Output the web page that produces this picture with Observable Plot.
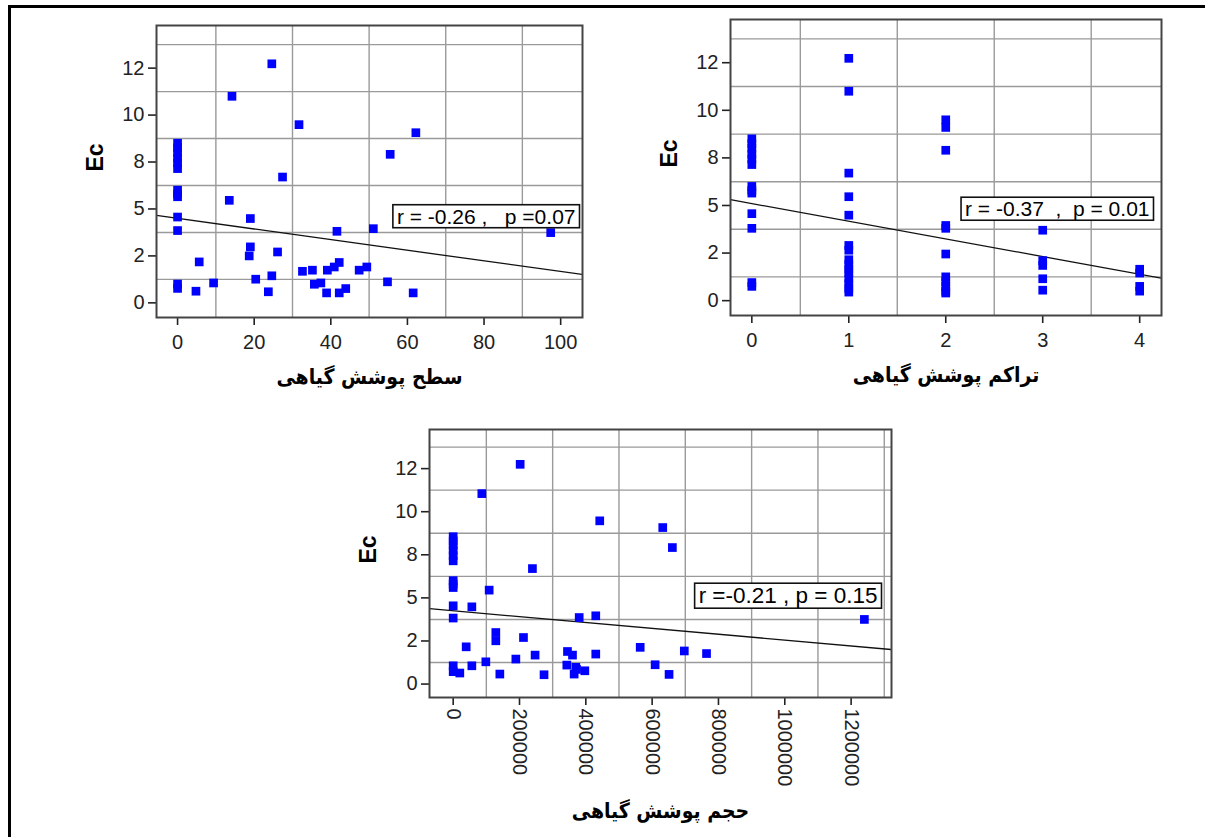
<!DOCTYPE html>
<html>
<head>
<meta charset="utf-8">
<script src="https://cdn.jsdelivr.net/npm/d3@7"></script>
<script src="https://cdn.jsdelivr.net/npm/@observablehq/plot@0.6"></script>
<style>
  body { margin: 0; background: #fff; }
  #root { position: relative; width: 1205px; height: 837px; overflow: hidden; background: #fff; }
  .bt { position: absolute; left: 8px; top: 5px; right: 0; height: 3px; background: #000; }
  .bl { position: absolute; left: 8px; top: 5px; bottom: 0; width: 3px; background: #000; }
  .panel { position: absolute; }
  svg text { white-space: pre; }
</style>
</head>
<body>
<div id="root"><div class="bt"></div><div class="bl"></div></div>
<script>
// ---- shared Ec (y) axis ----
const ecTicks = [0, 2.5, 5, 7.5, 10, 12.5];
const ecTickLabels = ["0", "2", "5", "8", "10", "12"];
const ecGrid = [1.25, 3.75, 6.25, 8.75, 11.25, 13.75];
const ecDomain = [-0.78, 14.77];

// ---- panel 1: سطح پوشش گیاهی (cover area) ----
const areaX = [0, 0, 0, 0, 0, 0, 0, 0, 0, 0, 0, 0, 0,
  5.65, 4.8, 9.4, 13.5, 14.2, 19.0, 19.0, 18.7, 20.4, 23.7,
  24.6, 24.6, 26.1, 27.4, 31.7, 32.6, 35.2, 35.7, 37.4, 39.1,
  38.9, 40.9, 41.6, 42.2, 42.2, 43.9, 47.4, 49.4, 51.1, 54.8,
  55.5, 62.2, 61.5, 97.4];
const areaEc = [8.5, 8.25, 8.0, 7.7, 7.45, 7.15, 6.0, 5.8, 5.65, 4.57, 3.85, 1.0, 0.77,
  2.18, 0.62, 1.06, 5.46, 11.0, 4.49, 2.98, 2.5, 1.26, 0.59,
  12.73, 1.44, 2.71, 6.70, 9.49, 1.68, 1.74, 0.99, 1.06, 1.74,
  0.53, 1.91, 3.81, 2.15, 0.53, 0.76, 1.74, 1.91, 3.95, 1.12,
  7.91, 9.06, 0.53, 3.74];
const areaTicks = [0, 20, 40, 60, 80, 100];
const areaGrid = [10, 30, 50, 70, 90];
const areaDomain = [-5.5, 105.7];

// ---- panel 2: تراکم پوشش گیاهی (cover density) ----
const densX = [0, 0, 0, 0, 0, 0, 0, 0, 0, 0, 0, 0, 0,
  1, 1, 1, 1, 1, 1, 1, 1, 1, 1, 1, 1, 1, 1, 1,
  2, 2, 2, 2, 2, 2, 2, 2, 2, 2, 2,
  3, 3, 3, 3, 3,
  4, 4, 4, 4];
const densEc = [8.5, 8.25, 8.0, 7.7, 7.45, 7.15, 6.0, 5.8, 5.65, 4.57, 3.8, 0.95, 0.75,
  12.73, 11.0, 6.7, 5.46, 4.49, 2.9, 2.65, 2.15, 1.9, 1.65, 1.45, 1.15, 0.9, 0.65, 0.45,
  9.5, 9.1, 7.9, 3.95, 3.8, 2.45, 1.25, 1.0, 0.75, 0.5, 0.4,
  3.7, 2.1, 1.85, 1.15, 0.55,
  1.65, 1.45, 0.75, 0.5];
const densTicks = [0, 1, 2, 3, 4];
const densGrid = [0.5, 1.5, 2.5, 3.5];
const densDomain = [-0.22, 4.225];

// ---- panel 3: حجم پوشش گیاهی (cover volume) ----
const volX = [0, 0, 0, 0, 0, 0, 0, 0, 0, 0, 0, 0, 0,
  20000, 39200, 56300, 56300, 98500, 86400, 108500, 128600, 128600, 140700,
  189000, 202000, 212000, 239000, 247000, 274000, 344700, 342700, 359800, 369800,
  364800, 380000, 372000, 397000, 430000, 430000, 442000, 564000, 609000, 632000,
  651000, 661000, 697000, 764000, 1240000];
const volEc = [8.55, 8.3, 8.05, 7.75, 7.45, 7.15, 6.0, 5.8, 5.6, 4.54, 3.83, 1.06, 0.72,
  0.64, 2.16, 1.06, 4.48, 1.29, 11.05, 5.45, 2.99, 2.51, 0.58,
  1.45, 12.75, 2.70, 6.70, 1.68, 0.54, 1.89, 1.10, 1.68, 0.97,
  0.58, 3.86, 0.85, 0.77, 3.96, 1.74, 9.47, 2.13, 1.12, 9.08,
  0.56, 7.92, 1.92, 1.77, 3.75];
const volTicks = [0, 200000, 400000, 600000, 800000, 1000000, 1200000];
const volGrid = [100000, 300000, 500000, 700000, 900000, 1100000, 1300000];
const volDomain = [-71400, 1321800];

// ---- fitted lines and statistics ----
const fitIntercepts = [4.50, 5.10, 4.25];
const fitSlopes = [-0.0283, -0.928, -0.0000017];
const statLabels = ["r = -0.26 ,   p =0.07", "r = -0.37  ,  p = 0.01", "r =-0.21 , p = 0.15"];
const xTitles = ["سطح پوشش گیاهی", "تراکم پوشش گیاهی", "حجم پوشش گیاهی"];
const yTitle = "Ec";

const root = document.getElementById("root");
const NS = "http://www.w3.org/2000/svg";

function panel(i, cfg) {
  const [L, T, R, B] = cfg.frame;
  const mL = 90, mR = 14, mT = 10, mB = cfg.marginBottom;
  const data = cfg.x.map((v, k) => ({x: v, y: cfg.ec[k]}));
  const fitData = cfg.xDomain.map(v => ({x: v, y: fitIntercepts[i] + fitSlopes[i] * v}));
  const gridStyle = {stroke: "#9a9a9a", strokeOpacity: 1, strokeWidth: 1.4};
  const svg = Plot.plot({
    width: (R - L) + mL + mR,
    height: (B - T) + mT + mB,
    marginLeft: mL, marginRight: mR, marginTop: mT, marginBottom: mB,
    x: {domain: cfg.xDomain},
    y: {domain: ecDomain},
    style: {fontFamily: "'Liberation Sans', Arial, sans-serif", fontSize: "20px", color: "#222", background: "transparent", overflow: "visible"},
    marks: [
      Plot.gridX({ticks: cfg.xGrid, ...gridStyle}),
      Plot.gridY({ticks: ecGrid, ...gridStyle}),
      Plot.axisY({ticks: ecTicks, tickFormat: d => ecTickLabels[ecTicks.indexOf(d)], tickSize: 8, tickPadding: 4, label: null, strokeWidth: 1.6}),
      Plot.axisX({ticks: cfg.xTicks, tickFormat: d => String(d), tickRotate: cfg.tickRotate, tickSize: 8, tickPadding: cfg.tickRotate ? 3 : 9, label: null, strokeWidth: 1.6}),
      Plot.line(fitData, {x: "x", y: "y", stroke: "#111", strokeWidth: 1.3, clip: true}),
      Plot.dot(data, {x: "x", y: "y", symbol: "square", r: 4.9, fill: "#0000ff", stroke: "none"}),
      Plot.frame({stroke: "#444", strokeWidth: 2}),
      Plot.text([yTitle], {text: d => d, frameAnchor: "left", dx: -61, rotate: -90, fontSize: 23, fontWeight: "bold", fill: "#000"}),
      Plot.text([xTitles[i]], {text: d => d, frameAnchor: "bottom", dy: cfg.titleDy, fontSize: 21, fontWeight: "bold", fontFamily: "'DejaVu Sans Condensed', 'DejaVu Sans', sans-serif", fill: "#000"}),
      Plot.text([statLabels[i]], {text: d => d, frameAnchor: "top-right", textAnchor: "end", lineAnchor: "middle", dx: cfg.statDx, dy: cfg.statDy, fontSize: cfg.statSize, fill: "#000"})
    ]
  });
  const wrap = document.createElement("div");
  wrap.className = "panel";
  wrap.style.left = (L - mL) + "px";
  wrap.style.top = (T - mT) + "px";
  wrap.appendChild(svg);
  root.appendChild(wrap);
  // white box with border behind the statistics text
  const t = Array.from(svg.querySelectorAll("text")).find(el => el.textContent === statLabels[i]);
  if (t) {
    const bb = t.getBBox();
    const rect = document.createElementNS(NS, "rect");
    rect.setAttribute("x", bb.x - 4);
    rect.setAttribute("y", bb.y);
    rect.setAttribute("width", bb.width + 8);
    rect.setAttribute("height", bb.height);
    rect.setAttribute("fill", "#fff");
    rect.setAttribute("stroke", "#111");
    rect.setAttribute("stroke-width", "1.6");
    if (t.getAttribute("transform")) rect.setAttribute("transform", t.getAttribute("transform"));
    t.parentNode.insertBefore(rect, t);
  }
}

panel(0, {x: areaX, ec: areaEc, xDomain: areaDomain, xTicks: areaTicks, xGrid: areaGrid,
  frame: [156, 25, 582, 317], marginBottom: 95, titleDy: 66, statDx: -7, statDy: 191.5, statSize: 21, tickRotate: 0});
panel(1, {x: densX, ec: densEc, xDomain: densDomain, xTicks: densTicks, xGrid: densGrid,
  frame: [730, 19, 1161, 315], marginBottom: 95, titleDy: 66, statDx: -12, statDy: 190, statSize: 21, tickRotate: 0});
panel(2, {x: volX, ec: volEc, xDomain: volDomain, xTicks: volTicks, xGrid: volGrid,
  frame: [429, 429, 891, 697], marginBottom: 135, titleDy: 120, statDx: -14, statDy: 166.5, statSize: 22.5, tickRotate: 90});
</script>
</body>
</html>
